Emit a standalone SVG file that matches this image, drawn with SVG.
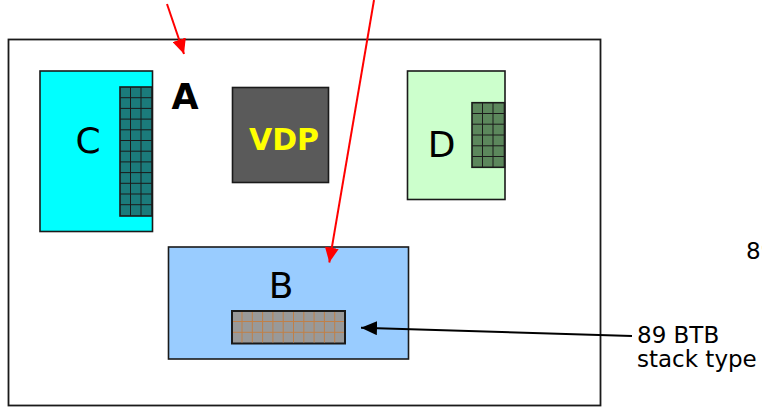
<svg xmlns="http://www.w3.org/2000/svg" width="762" height="407" viewBox="0 0 762 407">
<style>
  .box { stroke: #1a1a1a; stroke-width: 1.6; }
  .lbl { font-family: "DejaVu Sans", Verdana, sans-serif; fill: #000; }
  .big { font-size: 36px; text-anchor: middle; }
  .note { font-size: 23px; }
  .gridline { fill: none; stroke: #1a1a1a; stroke-width: 1; }
  .redarrow { fill: none; stroke: #ff0000; stroke-width: 2; }
  .blkarrow { fill: none; stroke: #000; stroke-width: 2; }
</style>
<defs>
  <marker id="redhead" markerUnits="userSpaceOnUse" markerWidth="16" markerHeight="14" refX="15" refY="7" orient="auto">
    <path d="M0,0 L15,7 L0,14 Z" fill="#ff0000"/>
  </marker>
  <marker id="blkhead" markerUnits="userSpaceOnUse" markerWidth="17" markerHeight="14" refX="16" refY="7" orient="auto">
    <path d="M0,0 L16,7 L0,14 Z" fill="#000"/>
  </marker>
</defs>
<rect width="762" height="407" fill="#fff"/>

<g id="frame">
  <rect x="8.5" y="39.5" width="592" height="366" fill="none" stroke="#1a1a1a" stroke-width="1.8"/>
</g>

<g id="node-C">
  <rect class="box" x="40" y="71" width="112.5" height="160.5" fill="#00ffff"/>
  <rect class="box" x="120" y="87" width="32" height="129" fill="#1b7b7b"/>
  <path class="gridline" d="M130.5,87V216M141,87V216M120,97.7H152M120,108.4H152M120,119.1H152M120,129.8H152M120,140.5H152M120,151.2H152M120,161.9H152M120,172.6H152M120,183.3H152M120,194H152M120,204.7H152"/>
  <text class="lbl big" x="88" y="153">C</text>
</g>

<g id="node-A">
  <text class="lbl" x="185" y="109" font-size="35" font-weight="bold" text-anchor="middle">A</text>
</g>

<g id="node-VDP">
  <rect class="box" x="232.5" y="87.5" width="96" height="95" fill="#5a5a5a"/>
  <text x="284" y="149.5" font-family="'DejaVu Sans', Verdana, sans-serif" font-size="30" font-weight="bold" fill="#ffff00" text-anchor="middle">VDP</text>
</g>

<g id="node-D">
  <rect class="box" x="407.5" y="71" width="97.5" height="128.5" fill="#ccffcc"/>
  <rect class="box" x="472" y="102.7" width="32.5" height="64.6" fill="#5c875c"/>
  <path class="gridline" d="M482.5,102.7V167.3M493,102.7V167.3M472,113.5H504.5M472,124.2H504.5M472,135H504.5M472,145.8H504.5M472,156.5H504.5"/>
  <text class="lbl big" x="441.5" y="157">D</text>
</g>

<g id="node-B">
  <rect class="box" x="168.5" y="247" width="240" height="112" fill="#99ccff"/>
  <rect x="232" y="311" width="113" height="32.5" fill="#999999" stroke="#1a1a1a" stroke-width="2"/>
  <path fill="none" stroke="#c08048" stroke-width="1" d="M242,312V342.5M252.3,312V342.5M262.6,312V342.5M272.9,312V342.5M283.2,312V342.5M293.5,312V342.5M303.8,312V342.5M314.1,312V342.5M324.4,312V342.5M334.7,312V342.5M233,321.5H344M233,332.3H344"/>
  <text class="lbl big" x="281" y="297.5">B</text>
</g>

<g id="connectors">
  <path class="redarrow" d="M167,4 L184,54" marker-end="url(#redhead)"/>
  <path class="redarrow" d="M374,0 L329.3,262.5" marker-end="url(#redhead)"/>
  <path class="blkarrow" d="M632,336 L361,327.7" marker-end="url(#blkhead)"/>
</g>

<g id="labels">
  <text class="lbl note" x="637" y="343">89 BTB</text>
  <text class="lbl note" x="637" y="366.5">stack type</text>
  <text class="lbl note" x="746" y="258.5">89</text>
</g>
</svg>
